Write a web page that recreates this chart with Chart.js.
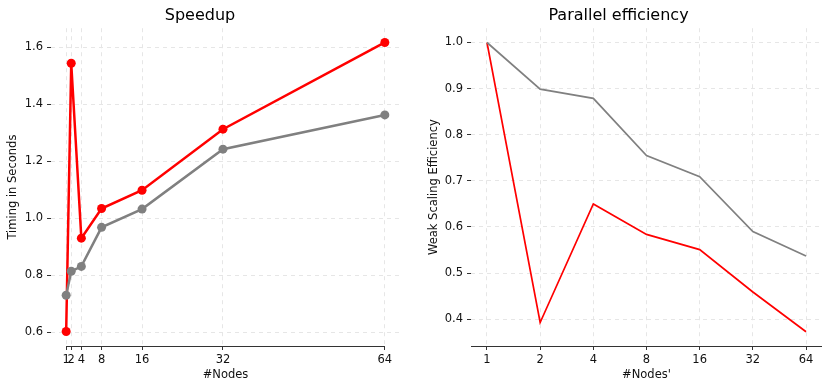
<!DOCTYPE html>
<html>
<head>
<meta charset="utf-8">
<script src="https://cdn.jsdelivr.net/npm/chart.js@4/dist/chart.umd.min.js"></script>
<style>
  body { margin: 0; background: #fff; }
  .wrap { display: flex; width: 830px; height: 390px; }
  canvas { display: block; }
</style>
</head>
<body>
<div class="wrap">
  <canvas id="speedChart" width="415" height="390"></canvas>
  <canvas id="effChart" width="415" height="390"></canvas>
</div>
<script>
// data
var nodes = [1, 2, 4, 8, 16, 32, 64];
var speedRed  = [0.603, 1.543, 0.930, 1.034, 1.098, 1.312, 1.616];
var speedGray = [0.730, 0.814, 0.831, 0.968, 1.032, 1.242, 1.362];
var effGray = [1.0, 0.899, 0.879, 0.755, 0.709, 0.590, 0.537];
var effRed  = [1.0, 0.393, 0.650, 0.584, 0.551, 0.459, 0.373];
var speedTicks = [0.6, 0.8, 1.0, 1.2, 1.4, 1.6];
var effTicks = [0.4, 0.5, 0.6, 0.7, 0.8, 0.9, 1.0];

var RED = '#ff0000', GRAY = '#808080';
var FONT = 'DejaVu Sans';
var FS = 11.5;
Chart.defaults.font.family = FONT;
Chart.defaults.color = '#111';

function pts(ys){
  return nodes.map(function(n, i){ return {x: n, y: ys[i]}; });
}
function fixTicks(list){
  return function(scale){ scale.ticks = list.map(function(v){ return {value: v}; }); };
}
function gridOpts(){
  return { color: '#e6e6e6', lineWidth: 1, tickLength: 4, tickColor: '#333', tickWidth: 1, tickBorderDash: [] };
}

// axis line, trimmed to first..last node on the left chart
var trimSpine = {
  id: 'trimSpine',
  afterDatasetsDraw: function(chart, args, opts){
    var x = chart.scales.x, a = chart.chartArea, c = chart.ctx;
    var x0 = opts.full ? a.left : x.getPixelForValue(nodes[0]);
    var x1 = opts.full ? a.right : x.getPixelForValue(nodes[nodes.length-1]);
    c.save();
    c.strokeStyle = '#333';
    c.lineWidth = 1.2;
    c.beginPath();
    c.moveTo(x0, a.bottom + 0.5);
    c.lineTo(x1, a.bottom + 0.5);
    c.stroke();
    c.restore();
  }
};

function xAxis(type, min, max, text){
  return {
    type: type, min: min, max: max,
    afterBuildTicks: fixTicks(nodes),
    afterFit: function(s){ s.height = 44; },
    ticks: { font: { size: FS }, padding: 3, color: '#111', autoSkip: false, maxRotation: 0, callback: function(v){ return String(v); } },
    grid: gridOpts(),
    border: { display: false, dash: [4, 4] },
    title: { display: true, text: text, font: { size: FS }, color: '#111', padding: { top: 0, bottom: 8 } }
  };
}

function baseOptions(title, yTitle, yTickList, yMin, yMax, yWidth, yTitlePad, padRight, full){
  return {
    responsive: false,
    animation: false,
    layout: { padding: { left: 0, right: padRight, top: 0, bottom: 0 } },
    plugins: {
      legend: { display: false },
      tooltip: { enabled: false },
      title: { display: true, text: title, font: { size: 16, weight: 'normal', family: FONT }, color: '#000', padding: { top: 6, bottom: 3 } },
      trimSpine: { full: full }
    },
    scales: {
      y: {
        min: yMin, max: yMax,
        afterBuildTicks: fixTicks(yTickList),
        afterFit: function(s){ s.width = yWidth; },
        ticks: { font: { size: FS }, padding: 4, color: '#111', callback: function(v){ return Number(v).toFixed(1); } },
        grid: gridOpts(),
        border: { display: false, dash: [4, 4] },
        title: { display: true, text: yTitle, font: { size: FS }, color: '#111', padding: { top: yTitlePad, bottom: 0 } }
      }
    }
  };
}

// left chart: linear node axis
var opt1 = baseOptions('Speedup', 'Timing in Seconds', speedTicks, 0.552, 1.666, 51, 6, 15, false);
opt1.scales.x = xAxis('linear', -2, 67, '#Nodes');
new Chart(document.getElementById('speedChart'), {
  type: 'line',
  data: { datasets: [
    { data: pts(speedGray), borderColor: GRAY, backgroundColor: GRAY, borderWidth: 2.5, pointRadius: 4.5, pointBorderWidth: 0, tension: 0 },
    { data: pts(speedRed), borderColor: RED, backgroundColor: RED, borderWidth: 2.5, pointRadius: 4.5, pointBorderWidth: 0, tension: 0 }
  ]},
  options: opt1,
  plugins: [trimSpine]
});

// right chart: nodes equally spaced (log2)
var opt2 = baseOptions('Parallel efficiency', 'Weak Scaling Efficiency', effTicks, 0.342, 1.031, 56, 12, 8, true);
opt2.scales.x = xAxis('logarithmic', 0.812, 78.8, "#Nodes'");
new Chart(document.getElementById('effChart'), {
  type: 'line',
  data: { datasets: [
    { data: pts(effGray), borderColor: GRAY, borderWidth: 1.7, pointRadius: 0, tension: 0 },
    { data: pts(effRed), borderColor: RED, borderWidth: 1.7, pointRadius: 0, tension: 0 }
  ]},
  options: opt2,
  plugins: [trimSpine]
});
</script>
</body>
</html>
